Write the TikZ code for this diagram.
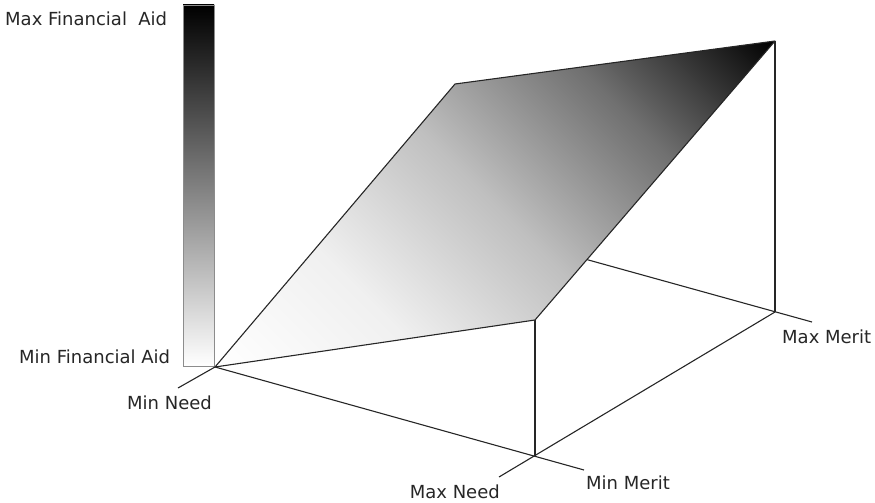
\documentclass[tikz,border=0pt]{standalone}
\usepackage{fontspec}
\setmainfont{DejaVu Sans}
\pgfdeclarehorizontalshading{planeshade}{100bp}{color(0bp)=(white); color(25bp)=(white); color(37.5bp)=(black!6); color(50bp)=(black!25); color(62.5bp)=(black!56); color(75bp)=(black); color(100bp)=(black)}
\begin{document}
\begin{tikzpicture}[x=1pt,y=-1pt,
  edge/.style={draw=black!85, line width=1.1pt},
  lab/.style={font=\fontsize{18}{21}\selectfont, text=black!85, inner sep=0pt}]
\useasboundingbox (0,0) rectangle (875,503);
\coordinate (A) at (215,367);
\coordinate (B) at (455,84);
\coordinate (C) at (775,41);
\coordinate (D) at (535,320);
\coordinate (MN) at (535,456);
\coordinate (MM) at (775,312);
\coordinate (BB) at (455,223);
\coordinate (T1) at (178,388);
\coordinate (T2) at (499,477);
\coordinate (T3) at (584,470);
\coordinate (T4) at (812,322);
% colour bar
\shade[top color=black, bottom color=white, draw=black!45, line width=0.6pt] (183,5) rectangle (214,366);
% base lines
\draw[edge] (BB) -- (T4);
\draw[edge] (A) -- (T3);
\draw[edge] (MM) -- (T2);
\draw[edge] (A) -- (T1);
\draw[edge] (MN) -- (D);
\draw[edge] (MM) -- (C);
% plane
\begin{scope}
  \clip (A) -- (B) -- (C) -- (D) -- cycle;
  \begin{scope}[transform canvas={shift={(A)}, rotate=45}]
    \shade[shading=planeshade] (0,-500) rectangle (626,500);
  \end{scope}
\end{scope}
\draw[edge, line join=round] (A) -- (B) -- (C) -- (D) -- cycle;
% labels
\node[lab, anchor=base west] (lmaxfa) at (5,26) {Max Financial\ \ Aid};
\node[lab, anchor=base west] (lminfa) at (19,363) {Min Financial Aid};
\node[lab, anchor=base west] (lminneed) at (127,409) {Min Need};
\node[lab, anchor=base east] (lmaxneed) at (500,498) {Max Need};
\node[lab, anchor=base west] (lminmerit) at (586,489) {Min Merit};
\node[lab, anchor=base west] (lmaxmerit) at (782,343) {Max Merit};
\end{tikzpicture}
\end{document}
